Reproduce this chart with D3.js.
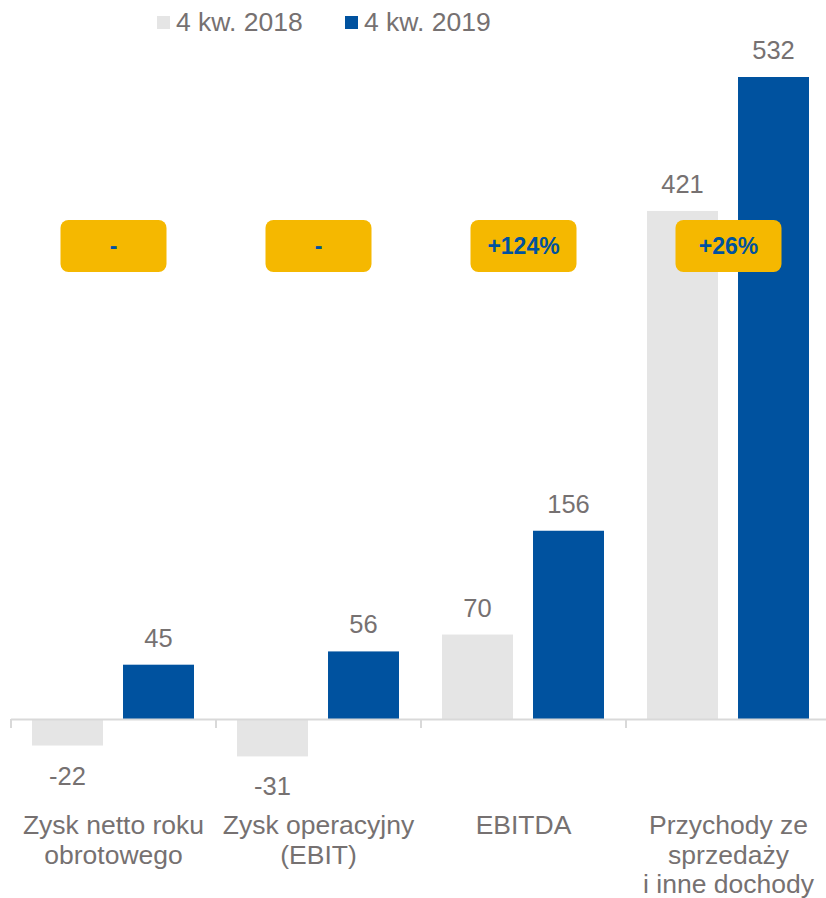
<!DOCTYPE html>
<html>
<head>
<meta charset="utf-8">
<script src="https://cdn.jsdelivr.net/npm/d3@7"></script>
<style>
  body { margin: 0; background: #fff; }
  text { font-family: "Liberation Sans", Arial, sans-serif; }
</style>
</head>
<body>
<div class="chart"></div>
<script>
// chart data
var categories = ["Zysk netto roku obrotowego", "Zysk operacyjny (EBIT)", "EBITDA", "Przychody ze sprzedaży i inne dochody"];
var categoryLines = [["Zysk netto roku", "obrotowego"], ["Zysk operacyjny", "(EBIT)"], ["EBITDA"], ["Przychody ze", "sprzedaży", "i inne dochody"]];
var series = ["4 kw. 2018", "4 kw. 2019"];
var values2018 = [-22, -31, 70, 421];
var values2019 = [45, 56, 156, 532];
var changes = ["-", "-", "+124%", "+26%"];

var colors = { "4 kw. 2018": "#e5e5e5", "4 kw. 2019": "#00529f" };
var textGray = "#767171";

var svgWidth = 826;
var svgHeight = 898;

var svg = d3.select(".chart")
  .append("svg")
  .attr("width", svgWidth)
  .attr("height", svgHeight);

// scales
var x0 = d3.scaleBand().domain(categories).range([11, 831]);
var x1 = d3.scaleBand().domain(series).range([21, 183]).paddingInner(0.22);
var y = d3.scaleLinear().domain([0, 532]).range([719, 77]);

var rows = categories.map(function(c, i) {
  return { cat: c, values: [
    { s: series[0], v: values2018[i] },
    { s: series[1], v: values2019[i] }
  ]};
});

// bars
var groups = svg.selectAll(".group")
  .data(rows)
  .enter()
  .append("g")
  .attr("class", "group")
  .attr("transform", d => `translate(${x0(d.cat)},0)`);

groups.selectAll("rect")
  .data(d => d.values)
  .enter()
  .append("rect")
  .attr("x", d => x1(d.s))
  .attr("width", x1.bandwidth())
  .attr("y", d => y(Math.max(0, d.v)))
  .attr("height", d => Math.abs(y(d.v) - y(0)))
  .attr("fill", d => colors[d.s]);

// value labels
groups.selectAll(".valLabel")
  .data(d => d.values)
  .enter()
  .append("text")
  .attr("class", "valLabel")
  .attr("x", d => x1(d.s) + x1.bandwidth() / 2)
  .attr("y", d => d.v >= 0 ? y(d.v) - 18 : y(d.v) + 39)
  .attr("text-anchor", "middle")
  .attr("font-size", 25.5)
  .attr("fill", textGray)
  .text(d => d.v);

// x axis line with ticks at band edges
svg.append("line")
  .attr("x1", x0.range()[0]).attr("x2", x0.range()[1])
  .attr("y1", 719.5).attr("y2", 719.5)
  .attr("stroke", "#d9d9d9").attr("stroke-width", 2);

svg.selectAll(".tickLine")
  .data(categories.concat([null]))
  .enter()
  .append("line")
  .attr("class", "tickLine")
  .attr("x1", (d, i) => x0.range()[0] + i * x0.step())
  .attr("x2", (d, i) => x0.range()[0] + i * x0.step())
  .attr("y1", 719).attr("y2", 728)
  .attr("stroke", "#d9d9d9").attr("stroke-width", 2);

// category labels
var catText = svg.selectAll(".catLabel")
  .data(categories)
  .enter()
  .append("text")
  .attr("class", "catLabel")
  .attr("text-anchor", "middle")
  .attr("font-size", 26.5)
  .attr("fill", textGray);

catText.selectAll("tspan")
  .data((d, i) => categoryLines[i].map(l => ({ line: l, cat: d })))
  .enter()
  .append("tspan")
  .attr("x", d => x0(d.cat) + x0.bandwidth() / 2)
  .attr("y", (d, i) => 834 + i * 29.5)
  .text(d => d.line);

// change badges
var badges = svg.selectAll(".badge")
  .data(categories)
  .enter()
  .append("g")
  .attr("class", "badge")
  .attr("transform", d => `translate(${x0(d) + x0.bandwidth() / 2},246)`);

badges.append("rect")
  .attr("x", -53).attr("y", -26)
  .attr("width", 106).attr("height", 52)
  .attr("rx", 8)
  .attr("fill", "#f5b800");

badges.append("text")
  .attr("text-anchor", "middle")
  .attr("dy", "0.36em")
  .attr("font-size", 23)
  .attr("font-weight", "bold")
  .attr("fill", "#00529f")
  .text((d, i) => changes[i]);

// legend
var legendX = [157, 345];
var legend = svg.selectAll(".legend")
  .data(series)
  .enter()
  .append("g")
  .attr("class", "legend")
  .attr("transform", (d, i) => `translate(${legendX[i]},0)`);

legend.append("rect")
  .attr("x", 0).attr("y", 16)
  .attr("width", 13).attr("height", 13)
  .attr("fill", d => colors[d]);

legend.append("text")
  .attr("x", 19).attr("y", 31)
  .attr("font-size", 26.5)
  .attr("fill", textGray)
  .text(d => d);
</script>
</body>
</html>
